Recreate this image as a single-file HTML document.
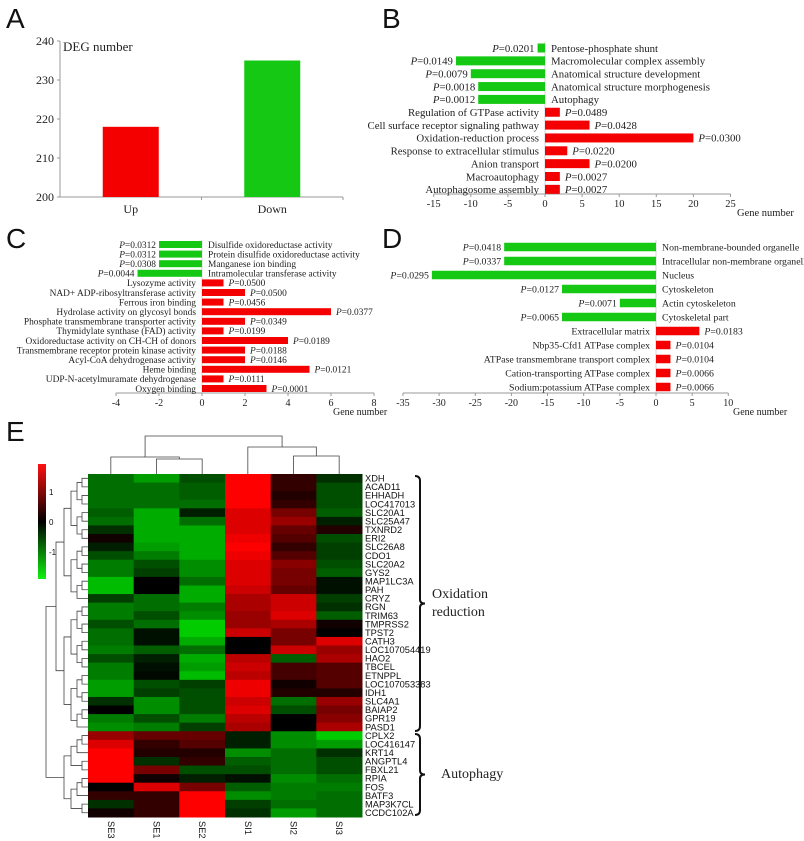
<!DOCTYPE html>
<html><head><meta charset="utf-8">
<style>
html,body{margin:0;padding:0;background:#fff;}
svg{display:block;}
.sr{font-family:"Liberation Serif",serif;fill:#222;}
.ss{font-family:"Liberation Sans",sans-serif;fill:#111;}
</style></head>
<body>
<svg id="fig" width="804" height="841" viewBox="0 0 804 841" xmlns="http://www.w3.org/2000/svg">
<text class="ss" x="6" y="28" font-size="28">A</text>
<text class="ss" x="382" y="28" font-size="28">B</text>
<text class="ss" x="6" y="248" font-size="28">C</text>
<text class="ss" x="382" y="248" font-size="28">D</text>
<text class="ss" x="6" y="441" font-size="28">E</text>
<g id="gA"></g>
<g id="gB"></g>
<g id="gC"></g>
<g id="gD"></g>
<g id="gE"></g>
</svg>
<script>
// Panel A
var aCats = ["Up","Down"];
var aVals = [218,235];
var aTicks = [200,210,220,230,240];
// Panel B
var bCats = ["Pentose-phosphate shunt","Macromolecular complex assembly","Anatomical structure development","Anatomical structure morphogenesis","Autophagy","Regulation of GTPase activity","Cell surface receptor signaling pathway","Oxidation-reduction process","Response to extracellular stimulus","Anion transport","Macroautophagy","Autophagosome assembly"];
var bVals = [-1,-12,-10,-9,-9,2,6,20,3,6,2,2];
var bP = ["0.0201","0.0149","0.0079","0.0018","0.0012","0.0489","0.0428","0.0300","0.0220","0.0200","0.0027","0.0027"];
var bTicks = [-15,-10,-5,0,5,10,15,20,25];
// Panel C
var cCats = ["Disulfide oxidoreductase activity","Protein disulfide oxidoreductase activity","Manganese ion binding","Intramolecular transferase activity","Lysozyme activity","NAD+ ADP-ribosyltransferase activity","Ferrous iron binding","Hydrolase activity on glycosyl bonds","Phosphate transmembrane transporter activity","Thymidylate synthase (FAD) activity","Oxidoreductase activity on CH-CH of donors","Transmembrane receptor protein kinase activity","Acyl-CoA dehydrogenase activity","Heme binding","UDP-N-acetylmuramate dehydrogenase","Oxygen binding"];
var cVals = [-2,-2,-2,-3,1,2,1,6,2,1,4,2,2,5,1,3];
var cP = ["0.0312","0.0312","0.0308","0.0044","0.0500","0.0500","0.0456","0.0377","0.0349","0.0199","0.0189","0.0188","0.0146","0.0121","0.0111","0.0001"];
var cTicks = [-4,-2,0,2,4,6,8];
// Panel D
var dCats = ["Non-membrane-bounded organelle","Intracellular non-membrane organelle","Nucleus","Cytoskeleton","Actin cytoskeleton","Cytoskeletal part","Extracellular matrix","Nbp35-Cfd1 ATPase complex","ATPase transmembrane transport complex","Cation-transporting ATPase complex","Sodium:potassium ATPase complex"];
var dVals = [-21,-21,-31,-13,-5,-13,6,2,2,2,2];
var dP = ["0.0418","0.0337","0.0295","0.0127","0.0071","0.0065","0.0183","0.0104","0.0104","0.0066","0.0066"];
var dTicks = [-35,-30,-25,-20,-15,-10,-5,0,5,10];
// Panel E
var genes = ["XDH","ACAD11","EHHADH","LOC417013","SLC20A1","SLC25A47","TXNRD2","ERI2","SLC26A8","CDO1","SLC20A2","GYS2","MAP1LC3A","PAH","CRYZ","RGN","TRIM63","TMPRSS2","TPST2","CATH3","LOC107054419","HAO2","TBCEL","ETNPPL","LOC107053383","IDH1","SLC4A1","BAIAP2","GPR19","PASD1","CPLX2","LOC416147","KRT14","ANGPTL4","FBXL21","RPIA","FOS","BATF3","MAP3K7CL","CCDC102A"];
var samples = ["SE3","SE1","SE2","SI1","SI2","SI3"];
var heat = [
[-0.7,-1.0,-0.5,1.5,0.3,-0.3],[-0.7,-0.7,-0.6,1.5,0.3,-0.5],[-0.7,-0.7,-0.6,1.5,0.2,-0.5],[-0.7,-0.7,-0.7,1.5,0.3,-0.5],
[-0.6,-1.1,-0.2,1.3,0.7,-0.6],[-0.7,-1.1,-0.7,1.3,0.9,-0.2],[-0.3,-1.1,-1.1,1.3,0.6,0.2],[0.1,-1.1,-1.1,1.4,0.5,-0.5],
[-0.2,-1.0,-1.1,1.5,0.3,-0.4],[-0.5,-0.8,-1.1,1.4,0.5,-0.4],[-0.8,-0.5,-0.9,1.3,0.8,-0.5],[-0.8,-0.4,-0.9,1.3,0.7,-0.6],
[-1.2,0.0,-0.7,1.3,0.7,-0.1],[-1.2,0.0,-1.1,1.2,0.6,-0.1],[-0.4,-0.7,-1.1,1.0,1.2,-0.4],[-0.8,-0.7,-0.8,1.0,1.2,-0.3],
[-0.8,-0.5,-0.9,0.9,1.3,-0.6],[-0.5,-0.7,-1.3,0.9,1.0,0.1],[-0.7,-0.1,-1.3,1.2,0.7,0.0],[-0.7,-0.1,-1.1,0.0,0.7,1.3],
[-0.8,-0.6,-0.7,0.0,1.2,0.9],[-0.5,-0.2,-1.1,1.1,-0.6,1.0],[-0.8,-0.1,-1.0,1.2,0.4,0.5],[-0.8,-0.05,-1.2,1.1,0.4,0.5],
[-1.0,-0.5,-0.4,1.4,0.1,0.5],[-1.0,-0.4,-0.5,1.4,0.2,0.2],[-0.3,-0.9,-0.5,1.2,-0.7,0.9],[0.0,-0.9,-0.5,1.3,-0.5,0.7],
[-0.8,-0.5,-0.8,1.1,0.0,0.8],[-0.9,-0.8,-0.4,1.0,0.0,1.0],[0.9,0.6,0.6,-0.2,-0.9,-1.3],[1.3,0.3,0.5,-0.2,-0.9,-1.0],
[1.5,0.2,0.2,-0.9,-0.7,-0.3],[1.5,-0.3,0.3,-0.6,-0.7,-0.5],[1.5,0.7,-0.5,-0.5,-0.7,-0.5],[1.5,0.1,-0.2,-0.1,-0.9,-0.7],
[0.0,1.3,0.7,-0.6,-0.8,-0.8],[0.3,0.3,1.5,-0.9,-0.8,-0.7],[-0.3,0.3,1.5,-0.4,-0.7,-0.7],[0.1,0.3,1.5,-0.3,-1.0,-0.7]];
var cbTicks = [1,0,-1];

var NS="http://www.w3.org/2000/svg";
function mk(parent,tag,attrs){var e=document.createElementNS(NS,tag);for(var k in attrs)e.setAttribute(k,attrs[k]);parent.appendChild(e);return e;}
var RED="#f40000", GREEN="#14c814";

// ---- Panel A
(function(){
  var g=document.getElementById('gA');
  var x0=60,x1=343,yTop=41,yBot=197,vmin=200,vmax=240;
  function ys(v){return yBot-(v-vmin)/(vmax-vmin)*(yBot-yTop);}
  var ax=mk(g,'path',{d:'M'+x0+' '+yTop+'V'+yBot+'H'+x1,stroke:'#999',fill:'none','stroke-width':1});
  
  
  aTicks.forEach(function(t){
    mk(g,'line',{x1:x0-3,x2:x0,y1:ys(t),y2:ys(t),stroke:'#999'});
    var tx=mk(g,'text',{x:x0-6,y:ys(t)+4,'text-anchor':'end','font-size':12,'class':'sr'});tx.textContent=t;
    
    
  });
  var bw=(x1-x0)/aCats.length;
  mk(g,'line',{x1:x0+bw,x2:x0+bw,y1:yBot,y2:yBot+3,stroke:'#999'});
  mk(g,'line',{x1:x1,x2:x1,y1:yBot,y2:yBot+3,stroke:'#999'});
  aCats.forEach(function(c,i){
    var cx=x0+bw*(i+0.5);
    var r=mk(g,'rect',{x:cx-28,y:ys(aVals[i]),width:56,height:yBot-ys(aVals[i]),fill:i==0?RED:GREEN});
    
    
    var t=mk(g,'text',{x:cx,y:yBot+16,'text-anchor':'middle','font-size':12,'class':'sr'});t.textContent=c;
    
    
  });
  var tt=mk(g,'text',{x:63,y:51,'font-size':13,'class':'sr'});tt.textContent='DEG number';
  
  
})();

// ---- generic diverging bar
function hbar(id,cats,vals,ps,ticks,o){
  var g=document.getElementById(id);
  function xs(v){return o.x0+v*o.k;}
  var ax=mk(g,'line',{x1:xs(ticks[0]),x2:xs(ticks[ticks.length-1]),y1:o.axisY,y2:o.axisY,stroke:'#999'});
  
  
  mk(g,'line',{x1:xs(0),x2:xs(0),y1:o.rowTop-o.sp/2,y2:o.axisY,stroke:'#bbb','stroke-width':0.6});
  ticks.forEach(function(t){
    mk(g,'line',{x1:xs(t),x2:xs(t),y1:o.axisY,y2:o.axisY+3,stroke:'#999'});
    var tx=mk(g,'text',{x:xs(t),y:o.axisY+13,'text-anchor':'middle','font-size':o.tf,'class':'sr'});tx.textContent=t;
    
    
  });
  var gn=mk(g,'text',{x:o.gnx,y:o.axisY+22,'font-size':o.tf,'class':'sr'});gn.textContent='Gene number';
  
  
  cats.forEach(function(c,i){
    var y=o.rowTop+i*o.sp, v=vals[i];
    var xa=Math.min(xs(0),xs(v)), w=Math.abs(xs(v)-xs(0));
    var r=mk(g,'rect',{x:xa,y:y-o.bh/2,width:w,height:o.bh,fill:v<0?GREEN:RED});
    
    
    var cl=mk(g,'text',{x:v<0?xs(0)+6:xs(0)-6,y:y+o.lf*0.35,'text-anchor':v<0?'start':'end','font-size':o.lf,'class':'sr'});cl.textContent=c;
    
    
    var pl=mk(g,'text',{x:v<0?xs(v)-3:xs(v)+5,y:y+o.lf*0.35,'text-anchor':v<0?'end':'start','font-size':o.lf,'class':'sr'});
    var it=mk(pl,'tspan',{'font-style':'italic'});it.textContent='P';
    var rest=mk(pl,'tspan',{});rest.textContent='=' + ps[i];
    
    
  });
}
hbar('gB',bCats,bVals,bP,bTicks,{x0:545,k:7.42,rowTop:48,sp:12.85,bh:9,axisY:194,tf:10.5,lf:10.8,gnx:737});
hbar('gC',cCats,cVals,cP,cTicks,{x0:202,k:21.5,rowTop:244.5,sp:9.6,bh:7,axisY:393,tf:10,lf:9.4,gnx:333});
hbar('gD',dCats,dVals,dP,dTicks,{x0:656,k:7.23,rowTop:247,sp:14,bh:8.5,axisY:393,tf:10,lf:9.8,gnx:733});

// ---- Panel E heatmap
(function(){
  var g=document.getElementById('gE');
  var hx=88,hy=474,cw=(362-88)/6,rh=343/40;
  function col(v){var t=Math.max(-1,Math.min(1,v/1.5));
    if(t>=0)return 'rgb('+Math.round(255*t)+',0,0)';
    return 'rgb(0,'+Math.round(235*-t)+',0)';}
  heat.forEach(function(row,i){row.forEach(function(v,j){
    var r=mk(g,'rect',{x:hx+j*cw,y:hy+i*rh,width:cw+0.5,height:rh+0.5,fill:col(v)});
    
    
  });});
  genes.forEach(function(n,i){
    var t=mk(g,'text',{x:365,y:hy+i*rh+rh/2+3.3,'font-size':9.3,'class':'ss'});t.textContent=n;
    
    
  });
  samples.forEach(function(s,j){
    var cx=hx+(j+0.5)*cw;
    var t=mk(g,'text',{x:cx-3,y:821,'font-size':9.3,'class':'ss',transform:'rotate(90 '+(cx-3)+' 821)'});t.textContent=s;
    
    
  });
  var defs=mk(g,'defs',{});var lg=mk(defs,'linearGradient',{id:'cb',x1:0,y1:0,x2:0,y2:1});
  mk(lg,'stop',{offset:'0','stop-color':'#ff1010'});mk(lg,'stop',{offset:'0.5','stop-color':'#000'});mk(lg,'stop',{offset:'1','stop-color':'#10f010'});
  var cb=mk(g,'rect',{x:38,y:464,width:8,height:115,fill:'url(#cb)'});
  
  
  cbTicks.forEach(function(t){
    var y=522-t*30;
    var tx=mk(g,'text',{x:49,y:y+3,'font-size':8,'class':'ss'});tx.textContent=t;
    
    
  });
  var cxs=[0,1,2,3,4,5].map(function(j){return hx+(j+0.5)*cw;});
  var dp='M'+cxs[1]+' 474V459H'+cxs[2]+'V474 M'+cxs[0]+' 474V457H'+((cxs[1]+cxs[2])/2)+'V459 '+
    'M'+cxs[4]+' 474V456H'+cxs[5]+'V474 M'+cxs[3]+' 474V447H'+((cxs[4]+cxs[5])/2)+'V456 '+
    'M'+((cxs[0]+(cxs[1]+cxs[2])/2)/2)+' 457V436H'+((cxs[3]+(cxs[4]+cxs[5])/2)/2)+'V447';
  var cd=mk(g,'path',{d:dp,stroke:'#444',fill:'none','stroke-width':0.8});
  
  
  var d='';
  function tree(a,b,depth){
    if(a==b)return [hy+a*rh+rh/2,hx];
    var m=Math.floor((a+b)/2);
    var L=tree(a,m,depth+1),R=tree(m+1,b,depth+1);
    var x=Math.min(L[1],R[1])-(b-a<2?6:b-a<4?5:b-a<8?6:b-a<16?7:8);
    d+='M'+L[1]+' '+L[0]+'H'+x+'V'+R[0]+'H'+R[1];
    return [(L[0]+R[0])/2,x];
  }
  var o=tree(0,29,0),au=tree(30,39,0);
  d+='M'+o[1]+' '+o[0]+'H46V'+au[0]+'H'+au[1];
  var rd=mk(g,'path',{d:d,stroke:'#444',fill:'none','stroke-width':0.8});
  
  
  function brace(y1,y2,x){var m=(y1+y2)/2;
    return 'M'+x+' '+y1+'Q'+(x+5)+' '+y1+' '+(x+5)+' '+(y1+5)+'V'+(m-4)+'Q'+(x+5)+' '+m+' '+(x+10)+' '+m+'Q'+(x+5)+' '+m+' '+(x+5)+' '+(m+4)+'V'+(y2-5)+'Q'+(x+5)+' '+y2+' '+x+' '+y2;}
  var b1=mk(g,'path',{d:brace(476,731,415),stroke:'#111',fill:'none','stroke-width':2});
  
  
  var b2=mk(g,'path',{d:brace(734,815,415),stroke:'#111',fill:'none','stroke-width':2});
  
  
  var t1=mk(g,'text',{x:432,y:598,'font-size':14,'class':'sr'});t1.textContent='Oxidation';
  
  
  var t2=mk(g,'text',{x:432,y:616,'font-size':14,'class':'sr'});t2.textContent='reduction';
  
  
  var t3=mk(g,'text',{x:441,y:778,'font-size':14,'class':'sr'});t3.textContent='Autophagy';
  
  
})();
</script>
</body></html>
